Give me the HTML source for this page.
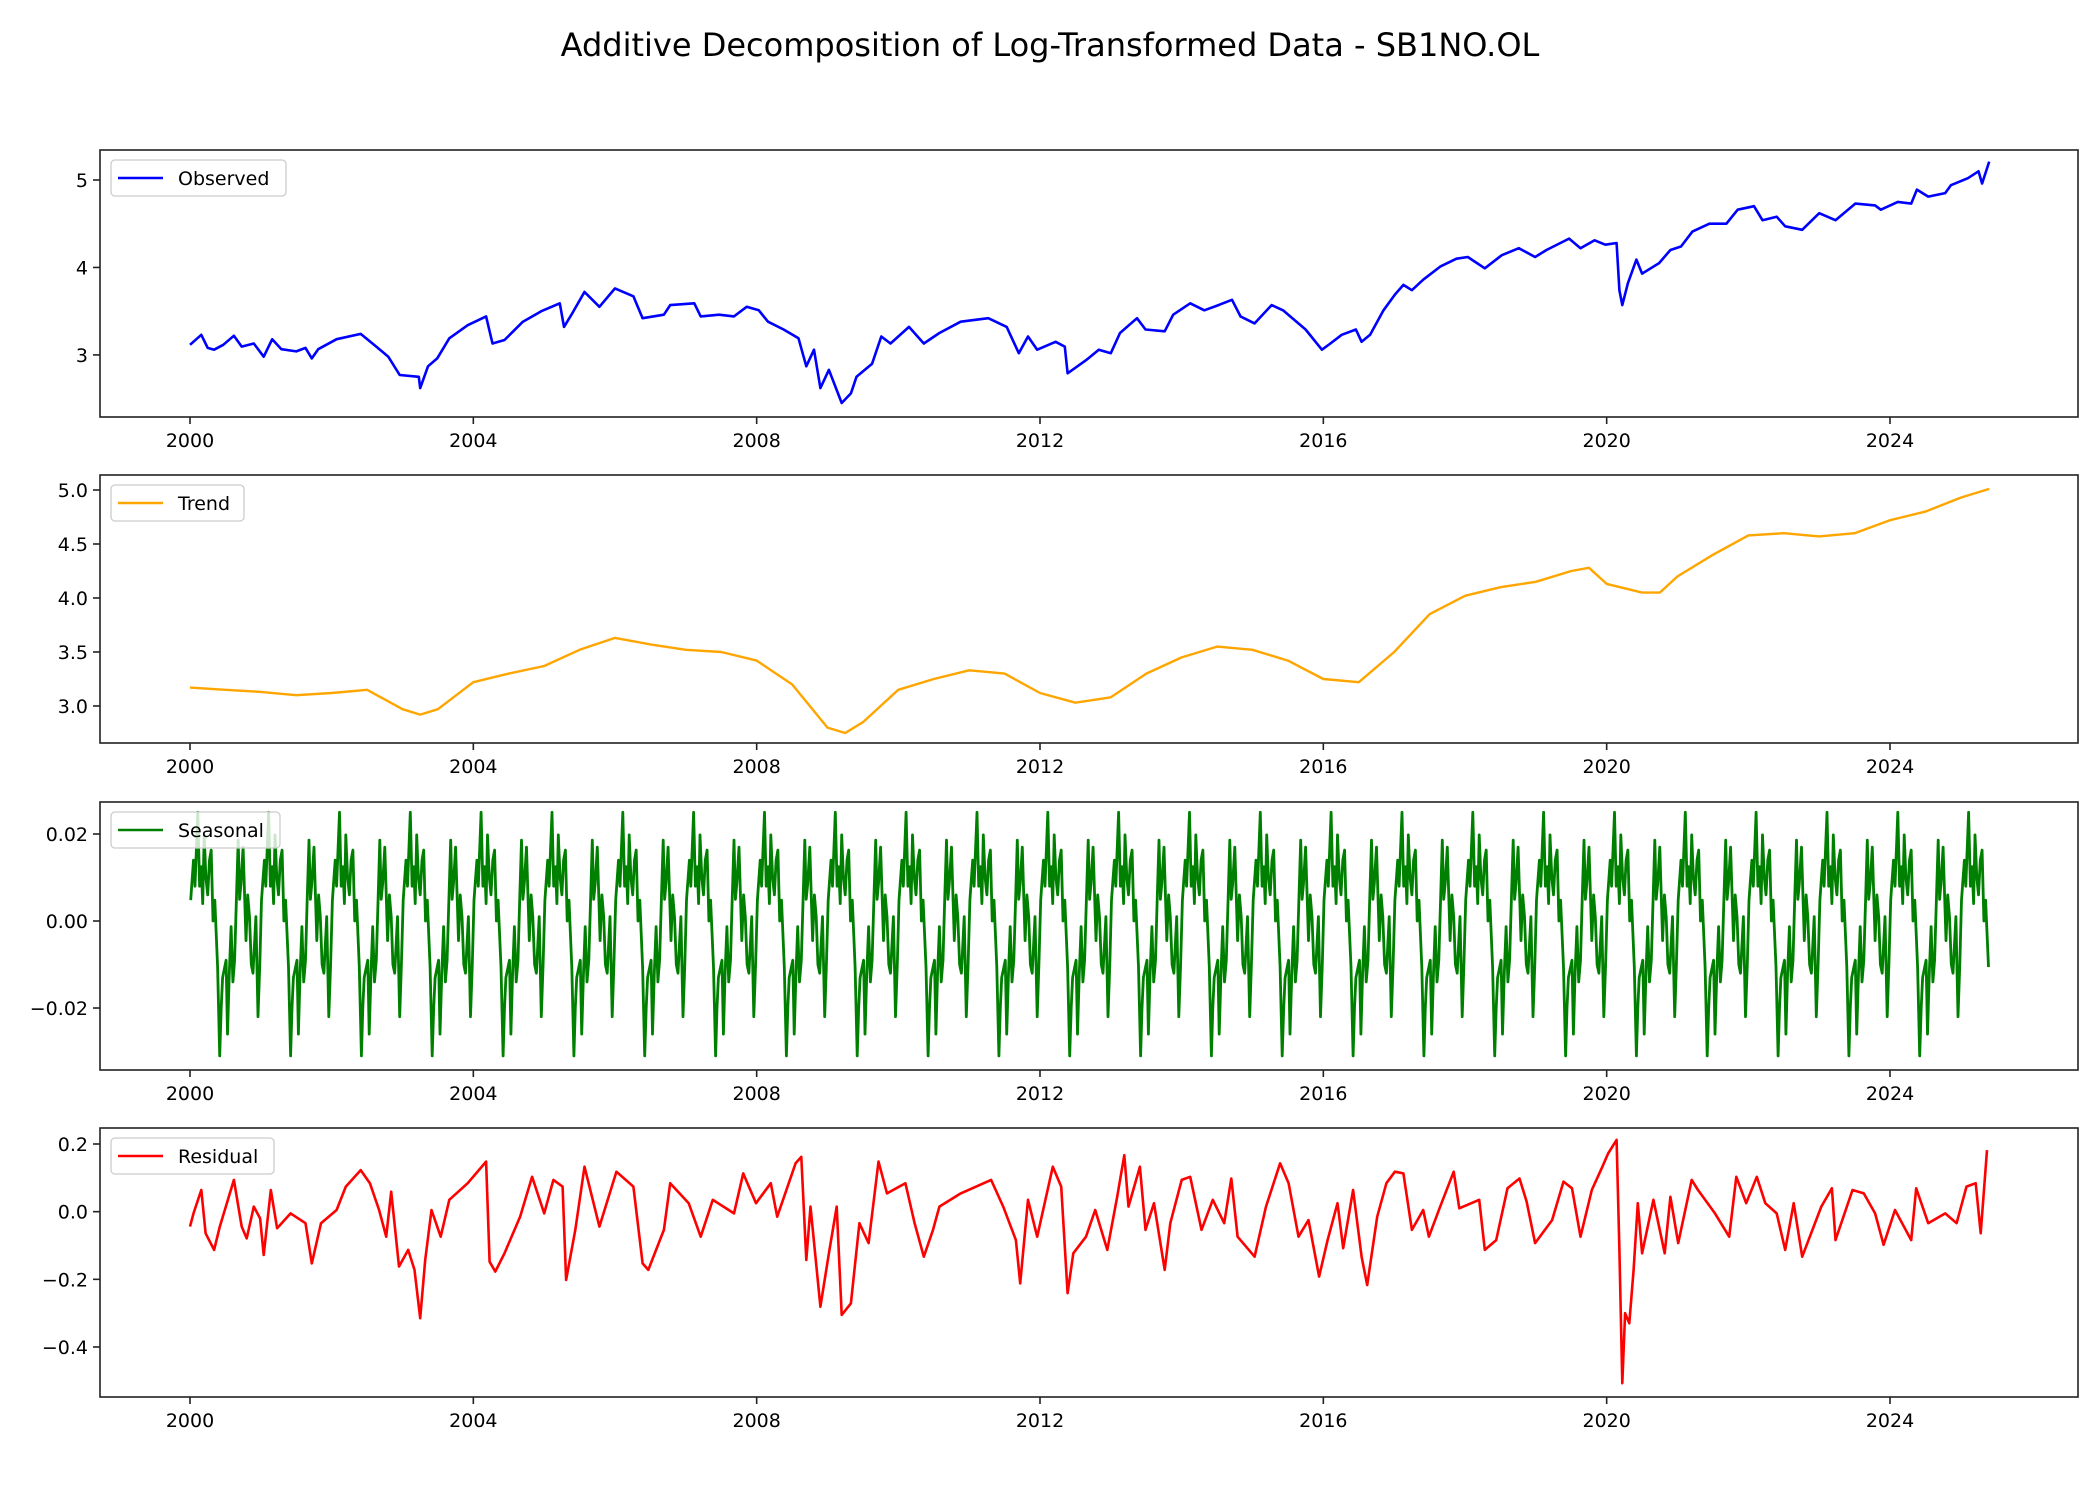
<!DOCTYPE html>
<html><head><meta charset="utf-8">
<style>
html,body{margin:0;padding:0;background:#fff;}
svg{display:block;font-family:"DejaVu Sans","Liberation Sans",sans-serif;}
</style></head>
<body>
<svg id="chart" width="2100" height="1500" viewBox="0 0 2100 1500" xmlns="http://www.w3.org/2000/svg">
<rect width="2100" height="1500" fill="#fff"/>
<text x="1050" y="56" text-anchor="middle" font-size="32" fill="#000">Additive Decomposition of Log-Transformed Data - SB1NO.OL</text>
</svg>
<script>
const xTickYears = [2000, 2004, 2008, 2012, 2016, 2020, 2024];
const obsTimes = [2000.0,2000.16,2000.25,2000.34,2000.47,2000.62,2000.73,2000.9,2001.04,2001.16,2001.29,2001.5,2001.63,2001.72,2001.81,2002.07,2002.41,2002.63,2002.8,2002.96,2003.23,2003.25,2003.36,2003.49,2003.66,2003.92,2004.18,2004.27,2004.44,2004.7,2004.96,2005.22,2005.28,2005.4,2005.57,2005.78,2006.0,2006.26,2006.39,2006.69,2006.78,2007.12,2007.21,2007.47,2007.68,2007.86,2008.03,2008.16,2008.38,2008.59,2008.7,2008.81,2008.9,2009.02,2009.2,2009.33,2009.41,2009.63,2009.76,2009.89,2010.15,2010.36,2010.58,2010.88,2011.27,2011.53,2011.7,2011.83,2011.96,2012.22,2012.35,2012.39,2012.65,2012.83,2013.0,2013.13,2013.37,2013.49,2013.76,2013.88,2014.12,2014.32,2014.52,2014.71,2014.83,2015.03,2015.27,2015.43,2015.75,2015.98,2016.1,2016.26,2016.46,2016.54,2016.66,2016.85,2017.01,2017.13,2017.25,2017.41,2017.65,2017.88,2018.04,2018.28,2018.52,2018.76,2018.99,2019.15,2019.47,2019.63,2019.83,2019.98,2020.14,2020.18,2020.22,2020.3,2020.42,2020.5,2020.74,2020.9,2021.05,2021.21,2021.45,2021.69,2021.85,2022.08,2022.2,2022.4,2022.52,2022.76,2023.0,2023.23,2023.51,2023.79,2023.87,2024.11,2024.3,2024.38,2024.54,2024.78,2024.86,2025.1,2025.25,2025.3,2025.4];
const observedValues = [3.115,3.23,3.08,3.06,3.115,3.22,3.095,3.13,2.98,3.18,3.065,3.04,3.08,2.96,3.065,3.18,3.24,3.095,2.98,2.77,2.75,2.62,2.87,2.96,3.19,3.34,3.44,3.13,3.17,3.38,3.5,3.59,3.32,3.48,3.72,3.55,3.76,3.67,3.42,3.46,3.57,3.59,3.44,3.46,3.44,3.55,3.51,3.38,3.29,3.19,2.87,3.06,2.62,2.83,2.45,2.56,2.75,2.9,3.21,3.13,3.32,3.13,3.25,3.38,3.42,3.32,3.02,3.21,3.06,3.15,3.095,2.79,2.94,3.06,3.02,3.25,3.42,3.29,3.27,3.46,3.59,3.51,3.57,3.63,3.44,3.36,3.57,3.51,3.29,3.06,3.13,3.23,3.29,3.15,3.23,3.51,3.69,3.8,3.74,3.86,4.01,4.1,4.12,3.99,4.14,4.22,4.12,4.2,4.33,4.22,4.31,4.26,4.28,3.74,3.57,3.82,4.09,3.93,4.05,4.2,4.24,4.41,4.5,4.5,4.66,4.7,4.54,4.58,4.47,4.43,4.62,4.54,4.73,4.71,4.66,4.75,4.73,4.89,4.81,4.85,4.94,5.02,5.1,4.96,5.21];
const trendTimes = [2000,2000.5,2001,2001.5,2002,2002.5,2003,2003.25,2003.5,2004,2004.5,2005,2005.5,2006,2006.5,2007,2007.5,2008,2008.5,2009,2009.25,2009.5,2010,2010.5,2011,2011.5,2012,2012.5,2013,2013.5,2014,2014.5,2015,2015.5,2016,2016.5,2017,2017.5,2018,2018.5,2019,2019.5,2019.75,2020,2020.5,2020.75,2021,2021.5,2022,2022.5,2023,2023.5,2024,2024.5,2025,2025.4];
const trendValues = [3.17,3.15,3.13,3.1,3.12,3.15,2.97,2.92,2.97,3.22,3.3,3.37,3.52,3.63,3.57,3.52,3.5,3.42,3.2,2.8,2.75,2.85,3.15,3.25,3.33,3.3,3.12,3.03,3.08,3.3,3.45,3.55,3.52,3.42,3.25,3.22,3.5,3.85,4.02,4.1,4.15,4.25,4.28,4.13,4.05,4.05,4.2,4.4,4.58,4.6,4.57,4.6,4.72,4.8,4.93,5.01];
const seasonalPhases = [0,0.025,0.05,0.07,0.09,0.115,0.14,0.165,0.19,0.215,0.24,0.28,0.31,0.33,0.35,0.40,0.42,0.445,0.47,0.495,0.52,0.545,0.57,0.59,0.61,0.64,0.68,0.705,0.73,0.755,0.78,0.82,0.85,0.875,0.90,0.94,0.96];
const seasonalValues = [0.025,0.008,0.0125,0.004,0.0198,0.01,0.006,0.014,0.0163,0.0,0.0048,-0.0106,-0.031,-0.02,-0.013,-0.009,-0.026,-0.012,-0.0013,-0.014,-0.009,0.005,0.0186,0.005,0.0086,0.017,-0.0045,0.006,0.001,-0.01,-0.012,0.001,-0.022,-0.01,0.0048,0.014,0.008];
const seasonalPeakOffset = 0.11;
const residualTimes = [2000.0,2000.05,2000.16,2000.22,2000.34,2000.42,2000.62,2000.73,2000.8,2000.9,2000.99,2001.04,2001.14,2001.23,2001.42,2001.63,2001.72,2001.85,2002.07,2002.2,2002.41,2002.54,2002.67,2002.77,2002.84,2002.95,2003.08,2003.17,2003.25,2003.32,2003.41,2003.54,2003.66,2003.92,2004.18,2004.23,2004.31,2004.44,2004.66,2004.83,2005.0,2005.13,2005.26,2005.31,2005.44,2005.57,2005.78,2006.02,2006.26,2006.39,2006.47,2006.69,2006.78,2007.04,2007.21,2007.38,2007.68,2007.81,2007.99,2008.2,2008.29,2008.55,2008.63,2008.7,2008.76,2008.9,2009.02,2009.13,2009.2,2009.33,2009.45,2009.58,2009.72,2009.84,2010.1,2010.23,2010.36,2010.49,2010.58,2010.88,2011.1,2011.31,2011.48,2011.66,2011.72,2011.83,2011.96,2012.18,2012.3,2012.39,2012.47,2012.65,2012.78,2012.95,2013.09,2013.19,2013.25,2013.41,2013.49,2013.61,2013.76,2013.84,2014.0,2014.12,2014.28,2014.44,2014.6,2014.7,2014.79,2015.03,2015.19,2015.39,2015.51,2015.65,2015.79,2015.94,2016.06,2016.2,2016.28,2016.42,2016.54,2016.62,2016.76,2016.89,2017.01,2017.13,2017.25,2017.41,2017.49,2017.65,2017.84,2017.92,2018.2,2018.28,2018.44,2018.6,2018.77,2018.87,2018.99,2019.23,2019.39,2019.51,2019.63,2019.79,2019.94,2020.02,2020.14,2020.18,2020.22,2020.26,2020.32,2020.38,2020.44,2020.5,2020.66,2020.82,2020.9,2021.01,2021.2,2021.29,2021.53,2021.73,2021.83,2021.97,2022.12,2022.24,2022.4,2022.52,2022.64,2022.76,2023.03,2023.18,2023.23,2023.47,2023.63,2023.79,2023.91,2024.07,2024.3,2024.37,2024.54,2024.78,2024.94,2025.08,2025.21,2025.28,2025.37];
const residualValues = [-0.044,-0.005,0.064,-0.064,-0.113,-0.044,0.094,-0.044,-0.079,0.015,-0.02,-0.128,0.064,-0.049,-0.005,-0.034,-0.153,-0.034,0.005,0.074,0.123,0.084,0.005,-0.074,0.059,-0.162,-0.113,-0.172,-0.315,-0.143,0.005,-0.074,0.035,0.084,0.148,-0.148,-0.177,-0.123,-0.015,0.103,-0.005,0.094,0.074,-0.202,-0.054,0.133,-0.044,0.118,0.074,-0.153,-0.172,-0.054,0.084,0.025,-0.074,0.035,-0.005,0.113,0.025,0.084,-0.015,0.143,0.162,-0.143,0.015,-0.281,-0.123,0.015,-0.305,-0.271,-0.034,-0.093,0.148,0.054,0.084,-0.034,-0.133,-0.054,0.015,0.054,0.074,0.094,0.015,-0.084,-0.212,0.035,-0.074,0.133,0.074,-0.241,-0.123,-0.074,0.005,-0.113,0.044,0.167,0.015,0.133,-0.054,0.025,-0.172,-0.034,0.094,0.103,-0.054,0.035,-0.034,0.098,-0.074,-0.133,0.015,0.143,0.084,-0.074,-0.025,-0.192,-0.084,0.025,-0.108,0.064,-0.133,-0.217,-0.015,0.084,0.118,0.113,-0.054,0.005,-0.074,0.015,0.118,0.01,0.035,-0.113,-0.084,0.069,0.098,0.03,-0.093,-0.025,0.089,0.069,-0.074,0.064,0.133,0.172,0.212,-0.113,-0.507,-0.3,-0.33,-0.172,0.025,-0.123,0.035,-0.123,0.044,-0.093,0.094,0.064,-0.005,-0.074,0.103,0.025,0.103,0.025,-0.005,-0.113,0.025,-0.133,0.015,0.069,-0.084,0.064,0.054,-0.005,-0.098,0.005,-0.084,0.069,-0.034,-0.005,-0.034,0.074,0.084,-0.064,0.182];

const svg = document.getElementById('chart');
const NS = 'http://www.w3.org/2000/svg';
const X0 = 100, X1 = 2078;
function xScale(t){ return 190 + (t - 2000) * (1700/24); }
function mk(tag, attrs){ const e = document.createElementNS(NS, tag); for (const k in attrs) e.setAttribute(k, attrs[k]); svg.appendChild(e); return e; }

function seasonalSeries(){
  const ts = [], vs = [];
  for (let y = -1; y < 27; y++) {
    for (let i = 0; i < seasonalPhases.length; i++) {
      const t = 2000 + y + seasonalPeakOffset + seasonalPhases[i];
      if (t >= 2000 && t <= 2025.4) { ts.push(t); vs.push(seasonalValues[i]); }
    }
  }
  return [ts, vs];
}
const seas = seasonalSeries();

const panels = [
  {name:'observed', label:'Observed', color:'#0000ff', top:150, bot:417, vmin:2.29, vmax:5.343, ticks:[3,4,5], fmt:v=>String(v), ts:obsTimes, vs:observedValues, legW:175, lw:2.6},
  {name:'trend', label:'Trend', color:'#ffa500', top:475, bot:743, vmin:2.657, vmax:5.139, ticks:[3.0,3.5,4.0,4.5,5.0], fmt:v=>v.toFixed(1), ts:trendTimes, vs:trendValues, legW:133, lw:2.4},
  {name:'seasonal', label:'Seasonal', color:'#008000', top:802, bot:1070, vmin:-0.03425, vmax:0.02736, ticks:[-0.02,0,0.02], fmt:v=>(v<0?'\u22120.02':(v===0?'0.00':'0.02')), ts:seas[0], vs:seas[1], legW:169, lw:2.8},
  {name:'residual', label:'Residual', color:'#ff0000', top:1128, bot:1397, vmin:-0.5478, vmax:0.2473, ticks:[-0.4,-0.2,0,0.2], fmt:v=>(v<0?'\u2212'+Math.abs(v).toFixed(1):v.toFixed(1)), ts:residualTimes, vs:residualValues, legW:163, lw:2.6}
];

panels.forEach(p => {
  const yS = v => p.bot - (v - p.vmin) / (p.vmax - p.vmin) * (p.bot - p.top);
  let d = '';
  p.ts.forEach((t, i) => { d += (i ? 'L' : 'M') + xScale(t).toFixed(1) + ',' + yS(p.vs[i]).toFixed(1); });
  const line = mk('path', {d:d, fill:'none', stroke:p.color, 'stroke-width':p.lw, 'stroke-linejoin':'round'});
  
  
  const fr = mk('rect', {x:X0, y:p.top, width:X1-X0, height:p.bot-p.top, fill:'none', stroke:'#222', 'stroke-width':1.6});
  
  
  xTickYears.forEach(yr => {
    const x = xScale(yr);
    const tk = mk('line', {x1:x, x2:x, y1:p.bot, y2:p.bot+7, stroke:'#222', 'stroke-width':1.6});
    
    
    const tl = mk('text', {x:x, y:p.bot+30, 'text-anchor':'middle', 'font-size':19, fill:'#000'});
    tl.textContent = String(yr);
    
    
  });
  p.ticks.forEach(v => {
    const y = yS(v);
    const tk = mk('line', {x1:X0-7, x2:X0, y1:y, y2:y, stroke:'#222', 'stroke-width':1.6});
    
    
    const tl = mk('text', {x:X0-12, y:y+7, 'text-anchor':'end', 'font-size':19, fill:'#000'});
    tl.textContent = p.fmt(v);
    
    
  });
  const ly = p.top + 10;
  const lb = mk('rect', {x:111, y:ly, width:p.legW, height:36, rx:4, fill:'#fff', 'fill-opacity':0.8, stroke:'#ccc', 'stroke-width':1.3});
  
  
  const ll = mk('line', {x1:118, x2:163, y1:ly+18, y2:ly+18, stroke:p.color, 'stroke-width':2.4});
  
  
  const lt = mk('text', {x:178, y:ly+25, 'font-size':19, fill:'#000'});
  lt.textContent = p.label;
  
  
});
</script>
</body></html>
